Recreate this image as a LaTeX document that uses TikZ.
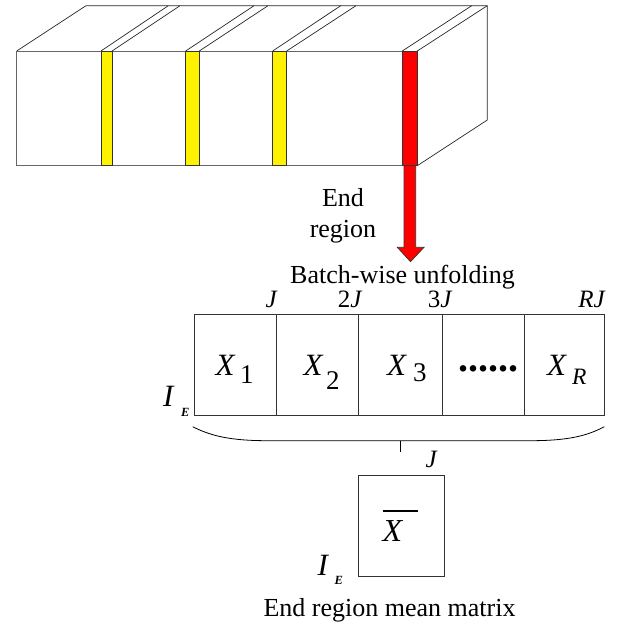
\documentclass[tikz,border=0pt]{standalone}
\usepackage{fontspec}
\setmainfont{Liberation Serif}
\begin{document}
\begin{tikzpicture}[x=1pt,y=-1pt,
  face/.style={draw=black!60, line width=0.8pt},
  diag/.style={draw=black!85, line width=0.7pt},
  ystrip/.style={draw=black!80, line width=0.8pt, fill=yellow},
  rstrip/.style={draw=black!80, line width=0.8pt, fill=red},
  txt/.style={inner sep=0pt, font=\fontsize{26}{30}\selectfont},
  lab/.style={inner sep=0pt, font=\fontsize{25}{28}\selectfont\itshape},
  bigx/.style={inner sep=0pt, font=\fontsize{31}{34}\selectfont\itshape},
  subn/.style={inner sep=0pt, font=\fontsize{27}{30}\selectfont},
  bigi/.style={inner sep=0pt, font=\fontsize{31}{34}\selectfont\itshape},
  sube/.style={inner sep=0pt, font=\fontsize{12.5}{14}\selectfont\bfseries\itshape},
  mat/.style={draw=black!80, line width=0.8pt}]
\path[use as bounding box] (0,0) rectangle (618,625);

% ---------- 3D block ----------
\draw[diag] (16.7,51) -- (86,5.7) -- (487.3,5.7);
\foreach \a/\b in {101/168.3,112/180,185.7/254,199.3/268,272.7/340.7,286.7/356,402.3/471.7,417.3/487.3}
  \draw[diag] (\a,51) -- (\b,5.7);
\draw[diag] (487.3,5.7) -- (487.3,120) -- (417.3,165.7);
\draw[face] (16.7,51) rectangle (402.3,165.7);
\draw[ystrip] (101,51) rectangle (112,165.7);
\draw[ystrip] (185.7,51) rectangle (199.3,165.7);
\draw[ystrip] (272.7,51) rectangle (286.7,165.7);
\draw[rstrip] (402.3,51) rectangle (417.3,165.7);

% red arrow
\draw[rstrip, line width=0.7pt] (404,165.7) -- (415.7,165.7) -- (415.7,247.3) -- (424,247.3)
  -- (410.5,261.7) -- (397.3,247.3) -- (404,247.3) -- cycle;

\node[txt, anchor=base] (endt) at (343,206) {End};
\node[txt, anchor=base] (regt) at (343,237) {region};
\node[txt, anchor=base west] (bwu) at (290,283.3) {Batch-wise unfolding};

% ---------- unfolded matrix ----------
\draw[mat] (194.3,314.3) rectangle (604.3,415);
\foreach \x in {276.3,358.3,442,524.3}
  \draw[mat] (\x,314.3) -- (\x,415);

\node[lab, anchor=base east] (j1) at (277,307) {J};
\node[lab, anchor=base east] (j2) at (361.7,307) {\upshape 2\itshape J};
\node[lab, anchor=base east] (j3) at (451.7,307) {\upshape 3\itshape J};
\node[lab, anchor=base east] (jr) at (605,307) {RJ};

\node[bigx, anchor=base west] (x1) at (215.5,375) {X};
\node[subn, anchor=base west] (s1) at (240,383.3) {1};
\node[bigx, anchor=base west] (x2) at (303.5,375) {X};
\node[subn, anchor=base west] (s2) at (326,389) {2};
\node[bigx, anchor=base west] (x3) at (387,375) {X};
\node[subn, anchor=base west] (s3) at (413,381) {3};
\node[inner sep=0pt, anchor=base, font=\fontsize{40}{42}\selectfont\bfseries] (dots) at (488.8,371) {......};
\node[bigx, anchor=base west] (xr) at (547,375) {X};
\node[inner sep=0pt, anchor=base west, font=\fontsize{23.5}{26}\selectfont\itshape] (sr) at (572,384) {R};

\node[bigi, anchor=base west] (i1) at (163,406.7) {I};
\node[sube, anchor=base west] (e1) at (181,416) {E};

% brace
\draw[black, line width=0.8pt] (192.7,426.7) .. controls (212,436.5) and (232,440.7) .. (268,440.7)
  -- (530,440.7) .. controls (566,440.7) and (586,436.5) .. (604.3,426.7);
\draw[black, line width=1.5pt] (400.7,440.7) -- (400.7,452.3);

% ---------- mean matrix ----------
\node[lab, anchor=base east] (jm) at (437,467) {J};
\node[mat, minimum width=86pt, minimum height=101pt, inner sep=0pt, anchor=north west] (mean) at (358.3,475) {};
\node[inner sep=0pt, anchor=base west, font=\fontsize{32}{34}\selectfont\itshape] (xb) at (382.5,541.7) {X};
\draw[black, line width=1.6pt] (382.7,510.7) -- (417.7,510.7);
\node[bigi, anchor=base west] (i2) at (317.5,575) {I};
\node[sube, anchor=base west] (e2) at (334.5,584) {E};

\node[txt, anchor=base west] (erm) at (263.3,616.7) {End region mean matrix};
\end{tikzpicture}
\end{document}
